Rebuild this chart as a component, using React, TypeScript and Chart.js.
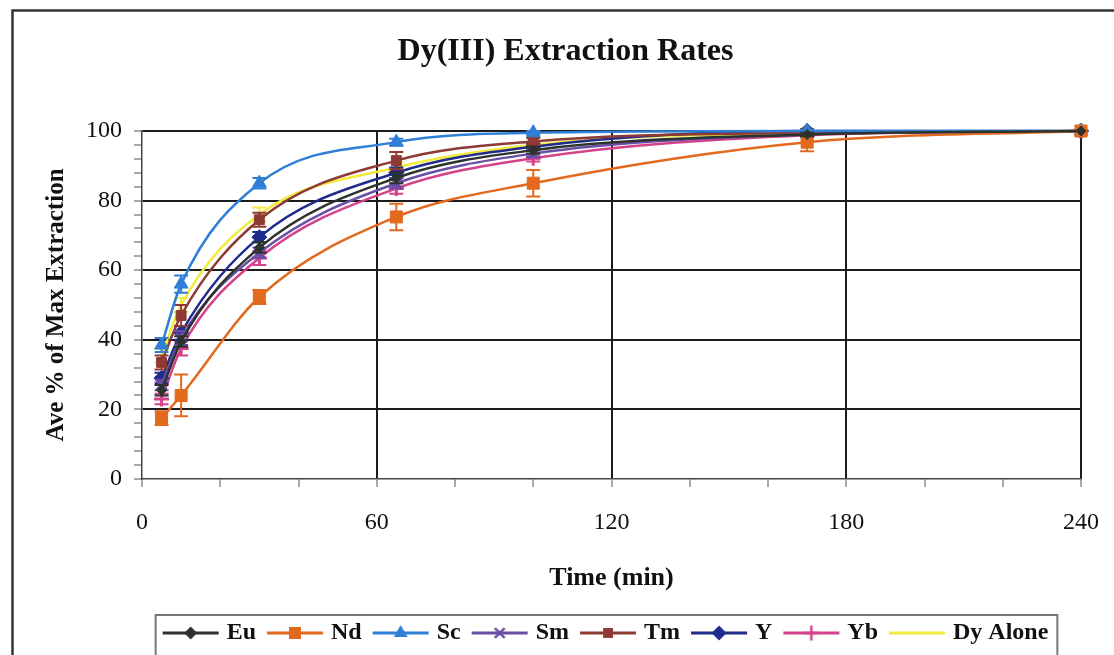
import { useEffect, useRef } from 'react';
import { Chart, registerables } from 'chart.js';

Chart.register(...registerables);

// ---- data ----
const times = [5, 10, 30, 65, 100, 170, 240];
const xTickLabels = [0, 60, 120, 180, 240];
const yTickLabels = [0, 20, 40, 60, 80, 100];

const euValues = [25.5, 39.5, 66.5, 86.5, 94.5, 99, 100];
const euErrors = [1.5, 1.5, 1.5, 1.5, 1, 0.5, 0];
const ndValues = [17.5, 24, 52.3, 75.3, 85, 96.8, 100];
const ndErrors = [2, 6, 2, 3.8, 3.8, 2.6, 0];
const scValues = [38.5, 56, 85, 96.8, 99.5, 100, 100];
const scErrors = [2, 2.5, 1.5, 1, 0.5, 0.3, 0];
const smValues = [27, 40.5, 65, 85, 93.5, 99, 100];
const smErrors = [1.5, 2, 1.5, 1.5, 1, 0.5, 0];
const tmValues = [33.5, 47, 74.5, 91.5, 97, 99.5, 100];
const tmErrors = [2, 3, 2, 2.5, 1, 0.5, 0];
const yValues = [29, 42, 69.5, 88, 95.5, 100, 100];
const yErrors = [1.5, 2, 1.5, 1.5, 1, 0.5, 0];
const ybValues = [23, 37.5, 63.5, 83.5, 92.2, 98.8, 100];
const ybErrors = [1.5, 2, 2, 1.5, 1, 0.5, 0];
const dyValues = [35.5, 50, 76, 89.5, 96, 99.5, 100];
const dyErrors = [2, 2, 2, 1.5, 1, 0.5, 0];

const seriesNames = ['Eu', 'Nd', 'Sc', 'Sm', 'Tm', 'Y', 'Yb', 'Dy Alone'];
const seriesValues = [euValues, ndValues, scValues, smValues, tmValues, yValues, ybValues, dyValues];
const seriesErrors = [euErrors, ndErrors, scErrors, smErrors, tmErrors, yErrors, ybErrors, dyErrors];
const seriesColors = ['#2c332c', '#e2691e', '#2f7fd6', '#6a4ea6', '#8e3a34', '#1f2c8c', '#d4428c', '#f2ea3c'];
const seriesMarkers = ['rectRot', 'rect', 'triangle', 'crossRot', 'rect', 'rectRot', 'cross', 'none'];
const seriesRadius = [5, 8.5, 8, 7, 7, 7.5, 7.5, 0];

const SERIF = "'Liberation Serif', 'Times New Roman', serif";

function drawMarker(ctx: CanvasRenderingContext2D, style: string, x: number, y: number, r: number, color: string) {
  ctx.save();
  ctx.fillStyle = color;
  ctx.strokeStyle = color;
  ctx.lineWidth = 2.5;
  ctx.beginPath();
  if (style === 'rectRot') {
    ctx.moveTo(x, y - r); ctx.lineTo(x + r, y); ctx.lineTo(x, y + r); ctx.lineTo(x - r, y); ctx.closePath(); ctx.fill();
  } else if (style === 'rect') {
    const s = r * Math.SQRT1_2;
    ctx.rect(x - s, y - s, 2 * s, 2 * s); ctx.fill();
  } else if (style === 'triangle') {
    ctx.moveTo(x, y - r); ctx.lineTo(x + r * 0.87, y + r * 0.5); ctx.lineTo(x - r * 0.87, y + r * 0.5); ctx.closePath(); ctx.fill();
  } else if (style === 'crossRot') {
    const s = r * 0.7;
    ctx.moveTo(x - s, y - s); ctx.lineTo(x + s, y + s); ctx.moveTo(x + s, y - s); ctx.lineTo(x - s, y + s); ctx.stroke();
  } else if (style === 'cross') {
    ctx.moveTo(x, y - r); ctx.lineTo(x, y + r); ctx.moveTo(x - r, y); ctx.lineTo(x + r, y); ctx.stroke();
  }
  ctx.restore();
}

function legendImage(i: number): HTMLCanvasElement {
  const c = document.createElement('canvas');
  c.width = 58; c.height = 24;
  const ctx = c.getContext('2d')!;
  ctx.strokeStyle = seriesColors[i];
  ctx.lineWidth = 3;
  ctx.beginPath(); ctx.moveTo(1, 12); ctx.lineTo(57, 12); ctx.stroke();
  const m = seriesMarkers[i];
  if (m !== 'none') drawMarker(ctx, m, 29, 12, Math.max(6.5, seriesRadius[i]), seriesColors[i]);
  return c;
}

const framePlugin = {
  id: 'frame',
  afterLayout(chart: any) {
    if (chart.titleBlock) { chart.titleBlock.left += 22; chart.titleBlock.right += 22; }
    if (chart.legend) { chart.legend.left += 64; chart.legend.right += 64; }
  },
  beforeDraw(chart: any) {
    const ctx = chart.ctx;
    ctx.save();
    ctx.fillStyle = '#ffffff';
    ctx.fillRect(0, 0, chart.width, chart.height);
    ctx.strokeStyle = '#333333';
    ctx.lineWidth = 2.5;
    ctx.strokeRect(12.5, 10.5, chart.width + 40, chart.height + 40);
    ctx.restore();
  },
  afterDraw(chart: any) {
    const lg = chart.legend;
    if (!lg || !lg.legendHitBoxes || !lg.legendHitBoxes.length) return;
    const boxes = lg.legendHitBoxes;
    let minX = Infinity, maxX = -Infinity;
    boxes.forEach((b: any) => { minX = Math.min(minX, b.left); maxX = Math.max(maxX, b.left + b.width); });
    const ctx = chart.ctx;
    ctx.save();
    ctx.strokeStyle = '#777777';
    ctx.lineWidth = 2;
    ctx.strokeRect(minX - 11, 615, maxX - minX + 20, 60);
    ctx.restore();
  },
};

const errorBarPlugin = {
  id: 'errorBars',
  afterDatasetDraw(chart: any, args: any) {
    const i = args.index;
    const errs = seriesErrors[i];
    const vals = seriesValues[i];
    const yScale = chart.scales.y;
    const ctx = chart.ctx;
    ctx.save();
    ctx.strokeStyle = seriesColors[i];
    ctx.lineWidth = 2;
    args.meta.data.forEach((pt: any, k: number) => {
      const e = errs[k];
      if (!e) return;
      const top = yScale.getPixelForValue(vals[k] + e);
      const bot = yScale.getPixelForValue(vals[k] - e);
      const x = pt.x;
      ctx.beginPath();
      ctx.moveTo(x, top); ctx.lineTo(x, bot);
      ctx.moveTo(x - 7, top); ctx.lineTo(x + 7, top);
      ctx.moveTo(x - 7, bot); ctx.lineTo(x + 7, bot);
      ctx.stroke();
    });
    ctx.restore();
  },
};

export default function App() {
  const ref = useRef<HTMLCanvasElement>(null);

  useEffect(() => {
    document.body.style.margin = '0';
    const images = seriesNames.map((_, i) => legendImage(i));
    const datasets = seriesNames.map((name, i) => ({
      label: name,
      data: times.map((t, k) => ({ x: t, y: seriesValues[i][k] })),
      borderColor: seriesColors[i],
      backgroundColor: seriesColors[i],
      borderWidth: 2.5,
      tension: 0.4,
      cubicInterpolationMode: 'monotone' as const,
      pointStyle: seriesMarkers[i] === 'none' ? 'circle' : seriesMarkers[i],
      pointRadius: seriesRadius[i],
      pointBorderWidth: seriesMarkers[i].startsWith('cross') ? 3 : 1,
      pointBackgroundColor: seriesColors[i],
      pointBorderColor: seriesColors[i],
      clip: 14,
    }));
    const chart = new Chart(ref.current!, {
      type: 'line',
      data: { datasets },
      plugins: [framePlugin, errorBarPlugin],
      options: {
        animation: false,
        responsive: false,
        layout: { padding: { left: 0, right: 27, top: 0, bottom: 0 } },
        plugins: {
          tooltip: { enabled: false },
          title: {
            display: true,
            text: 'Dy(III) Extraction Rates',
            color: '#111111',
            font: { family: SERIF, size: 32, weight: 'bold', lineHeight: 1.2 },
            padding: { top: 33, bottom: 59.6 },
          },
          legend: {
            display: true,
            position: 'bottom',
            labels: {
              usePointStyle: true,
              pointStyleWidth: 48,
              padding: 15,
              color: '#111111',
              font: { family: SERIF, size: 24, weight: 'bold' },
              generateLabels: () =>
                seriesNames.map((name, i) => ({
                  text: name,
                  pointStyle: images[i] as any,
                  fillStyle: seriesColors[i],
                  strokeStyle: seriesColors[i],
                  lineWidth: 0,
                  hidden: false,
                  datasetIndex: i,
                  fontColor: '#111111',
                })),
            },
          },
        },
        scales: {
          x: {
            type: 'linear',
            min: 0,
            max: 240,
            afterFit: (s: any) => { s.height = 127; },
            ticks: {
              stepSize: 20,
              autoSkip: false,
              maxRotation: 0,
              padding: 15,
              color: '#111111',
              font: { family: SERIF, size: 24, lineHeight: 1.7 },
              callback: (v: any) => (xTickLabels.includes(Number(v)) ? String(v) : ''),
            },
            grid: {
              color: (c: any) => (xTickLabels.includes(c.tick?.value) && c.tick.value !== 0 ? '#1c1c1c' : 'rgba(0,0,0,0)'),
              lineWidth: 2,
              tickColor: '#555555',
              tickWidth: 1,
              tickLength: 8,
            },
            border: { display: true, color: '#444444', width: 1.5 },
            title: {
              display: true,
              text: 'Time (min)',
              color: '#111111',
              font: { family: SERIF, size: 26, weight: 'bold', lineHeight: 1.2 },
              padding: { top: 0, bottom: 12 },
            },
          },
          y: {
            type: 'linear',
            min: 0,
            max: 100,
            afterFit: (s: any) => { s.width = 142; },
            ticks: {
              stepSize: 4,
              autoSkip: false,
              padding: 12,
              color: '#111111',
              font: { family: SERIF, size: 24 },
              callback: (v: any) => (yTickLabels.includes(Number(v)) ? String(v) : ''),
            },
            grid: {
              color: (c: any) => (yTickLabels.includes(c.tick?.value) && c.tick.value !== 0 ? '#1c1c1c' : 'rgba(0,0,0,0)'),
              lineWidth: 2,
              tickColor: '#555555',
              tickWidth: 1,
              tickLength: 8,
            },
            border: { display: true, color: '#444444', width: 1.5 },
            title: {
              display: true,
              text: 'Ave % of Max Extraction',
              color: '#111111',
              font: { family: SERIF, size: 25, weight: 'bold', lineHeight: 1.2 },
              padding: { top: 42, bottom: 0 },
            },
          },
        },
      },
    });
    return () => chart.destroy();
  }, []);

  return (
    <div style={{ position: 'absolute', left: 0, top: 0, width: 1114, height: 655 }}>
      <canvas ref={ref} width={1114} height={655} style={{ width: 1114, height: 655, display: 'block' }} />
    </div>
  );
}
